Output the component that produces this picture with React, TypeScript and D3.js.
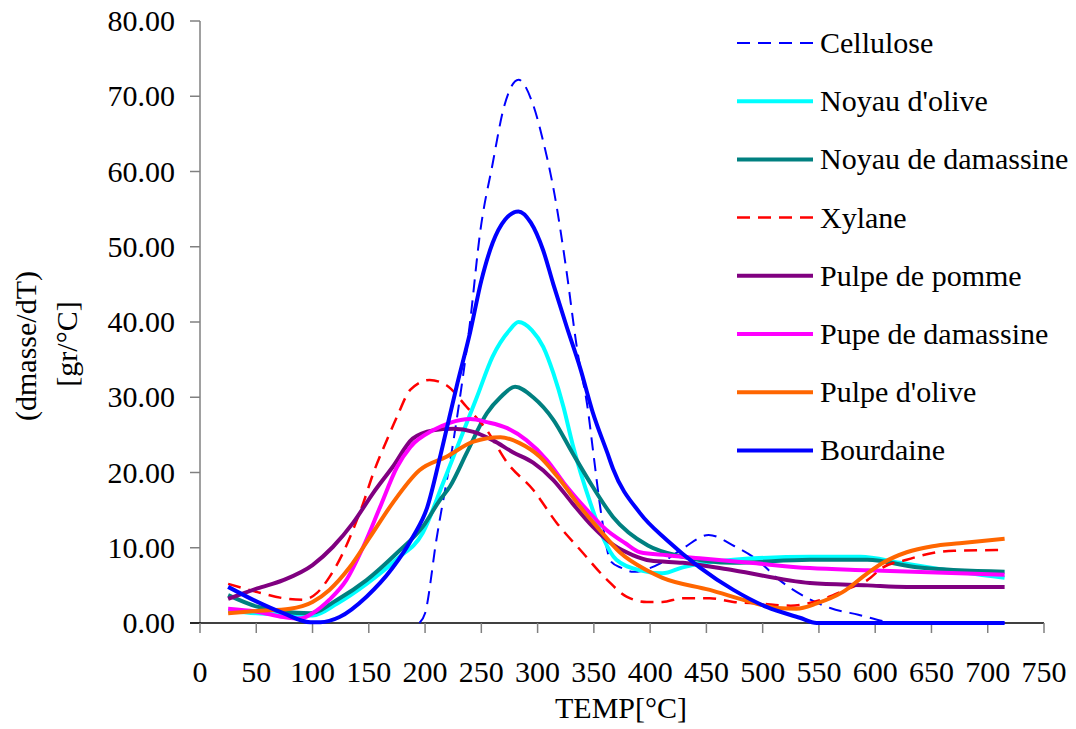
import React from "react";
import * as d3 from "d3";

// ---- DATA (temperature °C, dmasse/dT) ----
const xTicks = [0, 50, 100, 150, 200, 250, 300, 350, 400, 450, 500, 550, 600, 650, 700, 750];
const yTicks = [0, 10, 20, 30, 40, 50, 60, 70, 80];

const cellulose: [number, number][] = [
  [195, 0], [200, 1.3], [210, 11], [225, 24], [240, 40], [249, 52], [260, 61],
  [270, 68.5], [283, 72.2], [295, 69.3], [305, 64], [315, 57], [325, 47.5], [335, 36.5], [345, 28],
  [350, 22], [357, 14], [365, 8.2], [375, 7.3], [385, 6.8], [410, 8.0], [430, 10], [452, 11.7],
  [475, 10.2], [495, 8.4], [515, 5.7], [540, 3.3], [560, 2.0], [585, 1.1], [615, 0.1], [650, 0], [715, 0],
];
const noyauOlive: [number, number][] = [
  [25, 1.6], [50, 1.3], [75, 1.1], [100, 1.0], [122, 2.6], [148, 5.2], [175, 8.5], [198, 12],
  [216, 18.6], [231, 24.3], [246, 30], [260, 35.4], [275, 38.9], [283, 40], [295, 38.9], [305, 36.7],
  [314, 33.2], [323, 28.7], [331, 23.8], [347, 15.9], [358, 11.4], [370, 8.4], [391, 7.0], [411, 6.6],
  [429, 7.4], [474, 8.4], [542, 8.8], [587, 8.8], [622, 8.0], [651, 7.3], [715, 6.0],
];
const noyauDamassine: [number, number][] = [
  [25, 3.7], [50, 2.2], [74, 1.5], [98, 1.3], [122, 3.1], [148, 5.7], [175, 9.3], [198, 12.8],
  [213, 16.3], [222, 18.1], [237, 22.6], [255, 27.9], [267, 30], [280, 31.4], [296, 30], [314, 27],
  [331, 22.6], [349, 18.1], [367, 14.1], [398, 10.3], [429, 8.8], [474, 8.0], [542, 8.4], [593, 8.4],
  [637, 7.4], [715, 6.8],
];
const xylane: [number, number][] = [
  [25, 5.2], [51, 4.1], [74, 3.3], [91, 3.1], [104, 4.0], [115, 6.1], [127, 9.3], [136, 12.4],
  [145, 15.9], [154, 19.9], [166, 24.3], [175, 27.4], [187, 31], [204, 32.3], [219, 31.6], [237, 28.7],
  [255, 25.6], [273, 21.3], [296, 17.7], [317, 13.3], [338, 9.7], [362, 5.7], [379, 3.5], [397, 2.8],
  [411, 2.8], [429, 3.3], [453, 3.3], [474, 2.8], [497, 2.6], [525, 2.3], [550, 3.0], [575, 4.5],
  [593, 5.7], [607, 7.4], [628, 8.4], [651, 9.3], [670, 9.6], [715, 9.7],
];
const pulpePomme: [number, number][] = [
  [25, 3.2], [51, 4.6], [74, 5.7], [100, 7.7], [118, 10.1], [136, 13.3], [154, 17.3], [171, 20.7],
  [189, 24.5], [207, 25.6], [225, 25.8], [243, 25.4], [260, 24.3], [278, 22.7], [296, 21.3], [314, 19],
  [331, 15.9], [349, 12.8], [367, 10.4], [385, 9.0], [400, 8.3], [429, 8.0], [474, 7.0], [542, 5.3],
  [593, 5.0], [628, 4.8], [715, 4.8],
];
const pupeDamassine: [number, number][] = [
  [25, 1.9], [51, 1.5], [74, 0.8], [89, 0.6], [100, 1.3], [115, 3.1], [130, 5.7], [145, 10.1],
  [160, 15.4], [175, 20.7], [187, 23.4], [207, 25.6], [222, 26.6], [240, 27.1], [255, 26.7], [273, 25.9],
  [290, 24.3], [308, 21.7], [326, 18.1], [344, 15.0], [361, 12.4], [378, 10.6], [391, 9.4], [415, 9.0],
  [444, 8.6], [489, 8.0], [542, 7.3], [593, 7.0], [715, 6.4],
];
const pulpeOlive: [number, number][] = [
  [25, 1.3], [51, 1.6], [80, 1.9], [100, 2.8], [115, 4.4], [133, 7.4], [151, 11.4], [171, 15.9],
  [195, 20.3], [219, 22.1], [243, 24.1], [267, 24.7], [284, 23.9], [302, 22.1], [320, 19.0], [338, 15.4],
  [355, 12.4], [373, 9.4], [397, 7.0], [411, 6.0], [453, 4.4], [489, 2.8], [513, 2.0], [530, 1.9],
  [548, 2.6], [571, 4.1], [593, 6.6], [607, 8.0], [628, 9.4], [651, 10.2], [675, 10.6], [715, 11.2],
];
const bourdaine: [number, number][] = [
  [25, 4.8], [51, 2.8], [74, 1.3], [98, 0.1], [107, 0.1], [124, 0.8], [148, 3.5], [171, 7.3],
  [189, 11.4], [202, 15.4], [214, 22.5], [228, 31.4], [240, 38.6], [250, 45.5], [260, 50.5], [271, 53.6],
  [283, 54.7], [294, 53.2], [305, 49.5], [314, 45], [326, 39.3], [338, 33.8], [349, 28], [362, 22.6],
  [367, 20.5], [391, 14.6], [415, 11], [444, 7.4], [474, 4.4], [504, 2.1], [533, 0.7], [548, 0], [715, 0],
];

const seriesNames = [
  "Cellulose", "Noyau d'olive", "Noyau de damassine", "Xylane",
  "Pulpe de pomme", "Pupe de damassine", "Pulpe d'olive", "Bourdaine",
];
const seriesData = [cellulose, noyauOlive, noyauDamassine, xylane, pulpePomme, pupeDamassine, pulpeOlive, bourdaine];
const seriesColors = ["#0000FF", "#00FFFF", "#008080", "#FF0000", "#800080", "#FF00FF", "#FF6600", "#0000FF"];
const seriesDashed = [true, false, false, true, false, false, false, false];

export default function App() {
  const W = 1076, H = 729;
  const x = d3.scaleLinear().domain([0, 750]).range([200, 1044]);
  const y = d3.scaleLinear().domain([0, 80]).range([623, 21]);
  const line = d3.line<[number, number]>()
    .x((d) => x(d[0]))
    .y((d) => y(d[1]))
    .curve(d3.curveMonotoneX);
  const font = "'Liberation Serif', 'Times New Roman', serif";
  const fs = 30;
  const axisGrey = "#808080";

  return (
    <svg width={W} height={H} style={{ position: "absolute", left: 0, top: 0, background: "#fff" }}
      fontFamily={font}>
      <rect x={0} y={0} width={W} height={H} fill="#fff" />
      {/* Y axis */}
      <line x1={200} x2={200} y1={y(80)} y2={y(0)} stroke={axisGrey} strokeWidth={1.5} />
      {yTicks.map((t) => (
        <g key={"y" + t}>
          <line x1={190} x2={200} y1={y(t)} y2={y(t)} stroke={axisGrey} strokeWidth={1.5} />
          <text x={175} y={y(t) + 10} fontSize={fs} textAnchor="end" fill="#000">{t.toFixed(2)}</text>
        </g>
      ))}
      {/* X axis */}
      <line x1={190} x2={x(750)} y1={y(0)} y2={y(0)} stroke="#000" strokeWidth={1.5} />
      {xTicks.map((t) => (
        <g key={"x" + t}>
          <line x1={x(t)} x2={x(t)} y1={y(0)} y2={y(0) + 10} stroke={axisGrey} strokeWidth={1.5} />
          <text x={x(t)} y={682} fontSize={fs} textAnchor="middle" fill="#000">{t}</text>
        </g>
      ))}
      <text x={621} y={718} fontSize={fs} textAnchor="middle" fill="#000">TEMP[°C]</text>
      <text transform="translate(36,346) rotate(-90)" fontSize={fs} textAnchor="middle" fill="#000">(dmasse/dT)</text>
      <text transform="translate(77,344) rotate(-90)" fontSize={fs} textAnchor="middle" fill="#000">[gr/°C]</text>

      {/* Series */}
      {seriesData.map((data, i) => (
        <path key={"s" + i} d={line(data) || ""} fill="none" stroke={seriesColors[i]}
          strokeWidth={seriesDashed[i] ? (i === 0 ? 2 : 2.5) : 4}
          strokeDasharray={seriesDashed[i] ? "13,8" : undefined}
          strokeLinejoin="round" />
      ))}

      {/* Legend */}
      {seriesNames.map((name, i) => {
        const ly = 43 + i * 58.2;
        return (
          <g key={"l" + i}>
            <line x1={737} x2={813} y1={ly} y2={ly} stroke={seriesColors[i]}
              strokeWidth={seriesDashed[i] ? (i === 0 ? 2 : 2.5) : 4}
              strokeDasharray={seriesDashed[i] ? "13,8" : undefined} />
            <text x={820} y={ly + 10} fontSize={fs} fill="#000">{name}</text>
          </g>
        );
      })}
    </svg>
  );
}
